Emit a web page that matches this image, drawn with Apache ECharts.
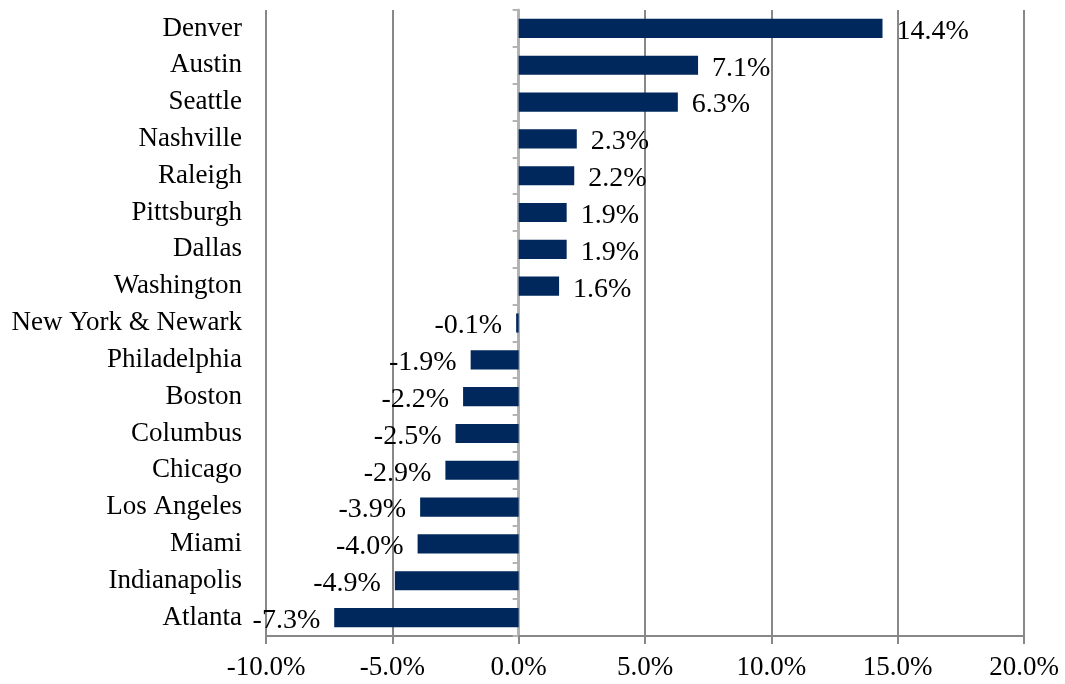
<!DOCTYPE html>
<html>
<head>
<meta charset="utf-8">
<script src="https://cdn.jsdelivr.net/npm/echarts@6/dist/echarts.min.js"></script>
<style>
  html, body { margin: 0; padding: 0; background: #fff; }
  #myEchart { width: 1065px; height: 684px; }
</style>
</head>
<body>
<div id="myEchart"></div>
<script>
var cities = ['Denver', 'Austin', 'Seattle', 'Nashville', 'Raleigh', 'Pittsburgh', 'Dallas',
    'Washington', 'New York & Newark', 'Philadelphia', 'Boston', 'Columbus', 'Chicago',
    'Los Angeles', 'Miami', 'Indianapolis', 'Atlanta'];
var change = [14.4, 7.1, 6.3, 2.3, 2.2, 1.9, 1.9, 1.6, -0.1, -1.9, -2.2, -2.5, -2.9, -3.9, -4.0, -4.9, -7.3];
var xMin = -10, xMax = 20, xStep = 5;

var fontName = '"Liberation Serif", "DejaVu Serif", serif';

var myChart = echarts.init(document.getElementById('myEchart'));
myChart.setOption({
    animation: false,
    grid: {
        left: 266,
        right: 41,
        top: 10,
        bottom: 48
    },
    xAxis: {
        type: 'value',
        min: xMin,
        max: xMax,
        interval: xStep,
        axisLine: { show: true, lineStyle: { color: '#888888', width: 2 } },
        axisTick: { show: true, length: 8, lineStyle: { color: '#888888', width: 2 } },
        splitLine: { show: true, lineStyle: { color: '#888888', width: 2 } },
        axisLabel: {
            color: '#000',
            fontFamily: fontName,
            fontSize: 27,
            margin: 18,
            formatter: function(v) { return v.toFixed(1) + '%'; }
        }
    },
    yAxis: [{
        type: 'category',
        data: cities,
        inverse: true,
        axisLine: { show: false, onZero: false },
        axisTick: { show: false },
        axisLabel: {
            color: '#000',
            fontFamily: fontName,
            fontSize: 27,
            margin: 24
        }
    }, {
        type: 'category',
        data: cities,
        inverse: true,
        position: 'left',
        axisLine: { show: true, onZero: true, lineStyle: { color: '#b3b3b3', width: 3 } },
        axisTick: { show: true, length: 6, lineStyle: { color: '#b3b3b3', width: 2 } },
        axisLabel: { show: false }
    }],
    series: [{
        type: 'bar',
        yAxisIndex: 0,
        // negative values get their label on the left of the bar
        data: change.map(function(v) {
            return v < 0 ? { value: v, label: { position: 'left' } } : v;
        }),
        barWidth: '52%',
        itemStyle: { color: '#00285c' },
        label: {
            show: true,
            position: 'right',
            distance: 14,
            offset: [0, 3],
            color: '#000',
            fontFamily: fontName,
            fontSize: 28,
            formatter: function(p) { return p.value.toFixed(1) + '%'; }
        }
    }]
});
</script>
</body>
</html>
